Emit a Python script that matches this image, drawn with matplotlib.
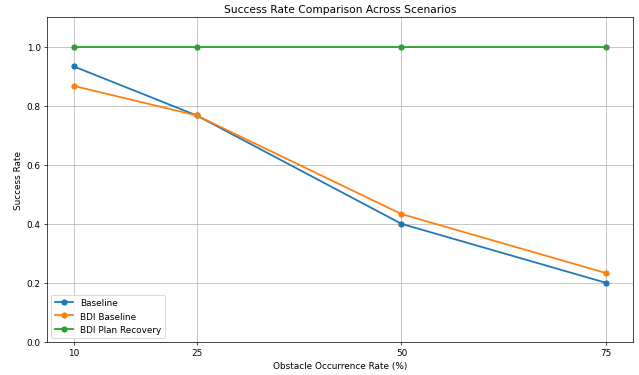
import matplotlib
matplotlib.use("Agg")
import matplotlib.pyplot as plt

rates = [10, 25, 50, 75]
baseline = [0.933, 0.767, 0.400, 0.200]
bdi_baseline = [0.867, 0.767, 0.433, 0.233]
bdi_recovery = [1.0, 1.0, 1.0, 1.0]

fig, ax = plt.subplots(figsize=(10, 5.884), dpi=63.9)
ax.plot(rates, baseline, marker='o', linewidth=2, label='Baseline')
ax.plot(rates, bdi_baseline, marker='o', linewidth=2, label='BDI Baseline')
ax.plot(rates, bdi_recovery, marker='o', linewidth=2, label='BDI Plan Recovery')
ax.set_xticks(rates)
ax.set_ylim(0, 1.1)
ax.set_title('Success Rate Comparison Across Scenarios', fontsize=12)
ax.set_xlabel('Obstacle Occurrence Rate (%)')
ax.set_ylabel('Success Rate')
ax.grid(True)
ax.legend(loc='lower left')
fig.subplots_adjust(left=0.0736, right=0.9906, top=0.952, bottom=0.0878)
fig.savefig('out.png', dpi=63.9)
